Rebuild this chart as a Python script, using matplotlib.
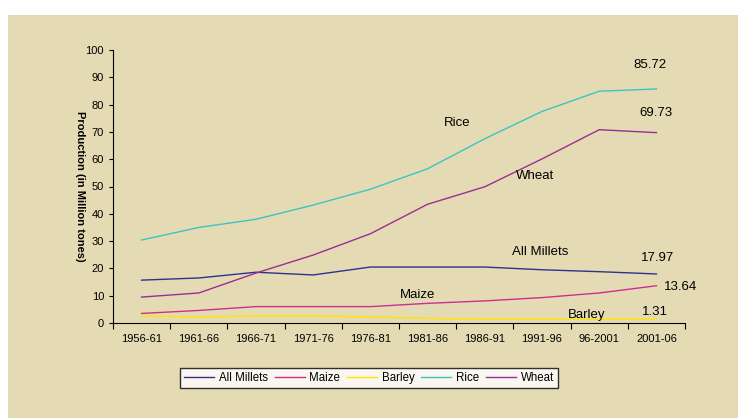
import numpy as np
import matplotlib
matplotlib.use("Agg")
import matplotlib.pyplot as plt
from matplotlib.patches import Rectangle

plt.rcParams['font.family'] = ['Liberation Sans', 'DejaVu Sans']

# periods and production (million tonnes)
periods = ["1956-61", "1961-66", "1966-71", "1971-76", "1976-81",
           "1981-86", "1986-91", "1991-96", "96-2001", "2001-06"]
millets = [15.7, 16.5, 18.6, 17.6, 20.5, 20.5, 20.5, 19.5, 18.8, 17.97]
maize = [3.5, 4.6, 6.0, 6.0, 6.0, 7.2, 8.1, 9.3, 11.0, 13.64]
barley = [2.6, 2.2, 2.6, 2.6, 2.2, 1.7, 1.4, 1.4, 1.4, 1.31]
rice = [30.4, 35.0, 38.0, 43.2, 49.0, 56.5, 67.5, 77.5, 84.9, 85.72]
wheat = [9.5, 11.0, 18.3, 24.9, 32.7, 43.5, 49.9, 60.1, 70.8, 69.73]

bg = '#E4DBB4'
fig = plt.figure(figsize=(7.38, 4.18), dpi=100, facecolor='white')
fig.patches.append(Rectangle((8/738, 0), 1, 1 - 15/418, transform=fig.transFigure,
                             facecolor=bg, edgecolor='none', zorder=-10))
ax = fig.add_axes([113/738, 1 - 323/418, 572/738, 273/418])
ax.set_facecolor(bg)

x = np.arange(len(periods))
ax.plot(x, millets, color='#2E3192', lw=1, label='All Millets')
ax.plot(x, maize, color='#CC2E8E', lw=1, label='Maize')
ax.plot(x, barley, color='#FFE500', lw=1, label='Barley')
ax.plot(x, rice, color='#3CC4C4', lw=1, label='Rice')
ax.plot(x, wheat, color='#9A2E96', lw=1, label='Wheat')

ax.set_xlim(-0.5, len(periods) - 0.5)
ax.set_ylim(0, 100)
ax.set_yticks(range(0, 101, 10))
ax.set_xticks(np.arange(-0.5, len(periods), 1))
ax.set_xticklabels([])
ax.set_xticks(x, minor=True)
ax.set_xticklabels(periods, minor=True)
ax.tick_params(axis='x', which='major', length=4, direction='out')
ax.tick_params(axis='x', which='minor', length=0, pad=8, labelsize=8)
ax.tick_params(axis='y', length=3, labelsize=8)
for s in ['top', 'right']:
    ax.spines[s].set_visible(False)
ax.set_ylabel('Production (in Million tones)', rotation=270,
              fontsize=8, fontweight='bold', va='center')
ax.yaxis.set_label_coords(-0.058, 0.5)

fs = 9.5
ax.text(5.52, 73.3, 'Rice', fontsize=fs, ha='center', va='center')
ax.text(6.87, 53.8, 'Wheat', fontsize=fs, ha='center', va='center')
ax.text(6.96, 26.0, 'All Millets', fontsize=fs, ha='center', va='center')
ax.text(4.83, 10.3, 'Maize', fontsize=fs, ha='center', va='center')
ax.text(7.78, 2.9, 'Barley', fontsize=fs, ha='center', va='center')
ax.text(8.88, 94.5, '85.72', fontsize=fs, ha='center', va='center')
ax.text(9.0, 77.0, '69.73', fontsize=fs, ha='center', va='center')
ax.text(9.02, 23.8, '17.97', fontsize=fs, ha='center', va='center')
ax.text(9.42, 13.2, '13.64', fontsize=fs, ha='center', va='center')
ax.text(8.97, 4.0, '1.31', fontsize=fs, ha='center', va='center')

leg = fig.legend(loc='center', bbox_to_anchor=(369/738, 1 - 378/418), ncol=5,
                 fontsize=8.3, frameon=True, fancybox=False, edgecolor='black',
                 handlelength=2.6, columnspacing=0.6, handletextpad=0.4,
                 borderpad=0.35)
leg.get_frame().set_linewidth(1)
leg.get_frame().set_facecolor('white')

fig.savefig('out.png', dpi=100, facecolor='white')
